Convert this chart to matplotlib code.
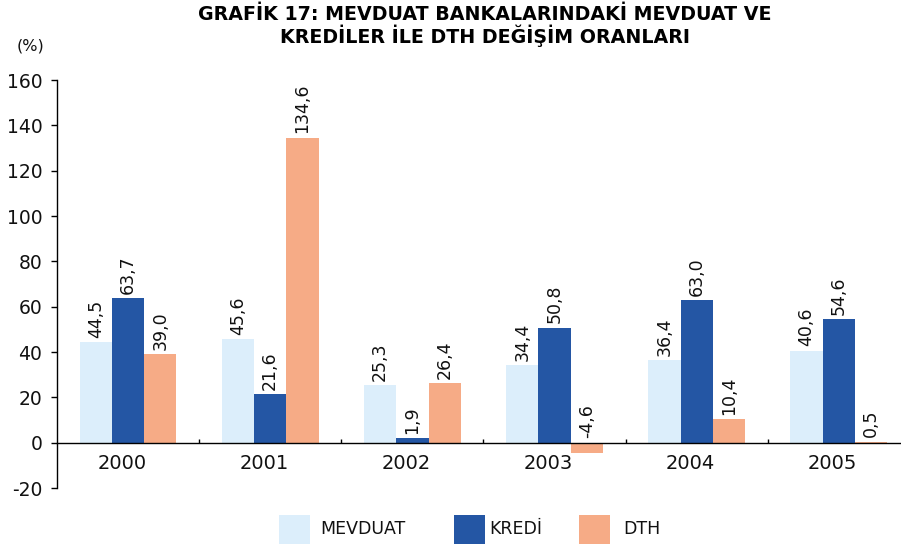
import matplotlib
matplotlib.use("Agg")
import matplotlib.pyplot as plt
from matplotlib.patches import Rectangle
import numpy as np

years = ["2000", "2001", "2002", "2003", "2004", "2005"]
mevduat = [44.5, 45.6, 25.3, 34.4, 36.4, 40.6]
kredi = [63.7, 21.6, 1.9, 50.8, 63.0, 54.6]
dth = [39.0, 134.6, 26.4, -4.6, 10.4, 0.5]
series_names = ["MEVDUAT", "KREDİ", "DTH"]
colors = ["#DCEEFB", "#2456A4", "#F6AB86"]
yticks = [-20, 0, 20, 40, 60, 80, 100, 120, 140, 160]

W, H = 901, 545
fig = plt.figure(figsize=(W / 100, H / 100), dpi=100)
ax = fig.add_axes([57 / W, 1 - 488 / H, 843 / W, 408 / H])

x = np.arange(len(years))
bw = 0.227
series = [mevduat, kredi, dth]
for i, (vals, c) in enumerate(zip(series, colors)):
    pos = x + (i - 1) * bw
    ax.bar(pos, vals, width=bw, color=c, edgecolor="none", zorder=2)
    for px, v in zip(pos, vals):
        ax.annotate(f"{v:.1f}".replace(".", ","), xy=(px, max(v, 0)),
                    xytext=(0, 3), textcoords="offset points",
                    rotation=90, ha="center", va="bottom", fontsize=12.5,
                    color="#111111")

ax.set_xlim(-0.5, 5.43)
ax.set_ylim(-20, 160)
ax.set_yticks(yticks)
ax.set_yticklabels([str(t) for t in yticks], fontsize=13.5, color="#111111")
ax.tick_params(axis="y", direction="out", length=4.5, width=1, pad=6)

ax.spines["top"].set_visible(False)
ax.spines["right"].set_visible(False)
ax.spines["bottom"].set_position(("data", 0))
ax.spines["left"].set_linewidth(1)
ax.spines["bottom"].set_linewidth(1)

ax.set_xticks(x)
ax.set_xticklabels([])
ax.set_xticks(np.arange(0.5, 5.0, 1.0), minor=True)
ax.tick_params(axis="x", which="major", length=0)
ax.tick_params(axis="x", which="minor", direction="in", length=3, width=1)
for xi, lab in zip(x, years):
    ax.annotate(lab, xy=(xi, 0), xytext=(-4.5, -8), textcoords="offset points",
                ha="center", va="top", fontsize=14, color="#111111")

fig.text(485 / W, 1 - 15 / H, "GRAFİK 17: MEVDUAT BANKALARINDAKİ MEVDUAT VE",
         ha="center", va="center", fontsize=13.7, fontweight="bold")
fig.text(485 / W, 1 - 36 / H, "KREDİLER İLE DTH DEĞİŞİM ORANLARI",
         ha="center", va="center", fontsize=13.7, fontweight="bold")
fig.text(30 / W, 1 - 46 / H, "(%)", ha="center", va="center", fontsize=11.5,
         color="#111111")

# legend
leg_patch_x = [279, 454, 579]
leg_text_x = [320, 489, 623]
for px, tx, name, c in zip(leg_patch_x, leg_text_x, series_names, colors):
    fig.patches.append(Rectangle((px / W, 1 - 544 / H), 31 / W, 29 / H,
                                 transform=fig.transFigure, facecolor=c,
                                 edgecolor="none"))
    fig.text(tx / W, 1 - 529 / H, name, ha="left", va="center", fontsize=12.5,
             color="#111111")

fig.savefig("out.png", dpi=100)
